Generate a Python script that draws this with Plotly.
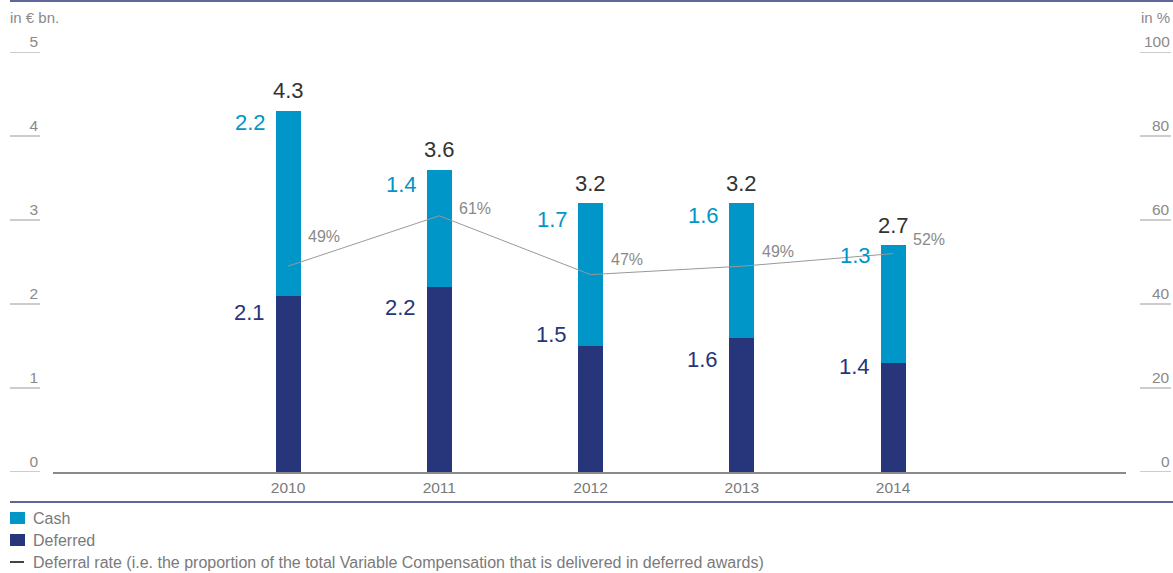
import plotly.graph_objects as go

# ---------------- data ----------------
years = ["2010", "2011", "2012", "2013", "2014"]
deferred = [2.1, 2.2, 1.5, 1.6, 1.3]
cash = [2.2, 1.4, 1.7, 1.6, 1.4]
deferred_labels = ["2.1", "2.2", "1.5", "1.6", "1.4"]
cash_labels = ["2.2", "1.4", "1.7", "1.6", "1.3"]
total_labels = ["4.3", "3.6", "3.2", "3.2", "2.7"]
deferral_rate = [49, 61, 47, 49, 52]
left_ticks = [0, 1, 2, 3, 4, 5]
right_ticks = [0, 20, 40, 60, 80, 100]

# ---------------- styling ----------------
W, H = 1173, 573
L, R, T, B = 53, 1126, 52, 472  # plot area in pixels
CASH_C = "#0096c8"
DEF_C = "#27357a"
GRAY = "#8a8a8a"
FONT = "Liberation Sans, Arial, sans-serif"
BAR_W = 0.165

# label pixel offsets (style only)
cash_dy = [-12, -15, -16, -12, -10]
def_dy = [-17, -20, 12, -22, -4]
pct_dy = [-30, -7, -15, -15, -14]


def px(x):
    return (x - L) / (R - L)


def py(y):
    return (B - y) / (B - T)


totals = [d + c for d, c in zip(deferred, cash)]
idx = list(range(len(years)))

fig = go.Figure()
fig.add_trace(go.Bar(x=years, y=deferred, name="Deferred", marker_color=DEF_C,
                     marker_line_width=0, width=BAR_W, hoverinfo="skip"))
fig.add_trace(go.Bar(x=years, y=cash, name="Cash", marker_color=CASH_C,
                     marker_line_width=0, width=BAR_W, hoverinfo="skip"))
fig.add_trace(go.Scatter(x=years, y=deferral_rate, yaxis="y2", mode="lines",
                         name="Deferral rate", line=dict(color="#999999", width=1),
                         hoverinfo="skip"))

ann = []
for i in idx:
    # totals
    ann.append(dict(x=i, y=totals[i], xref="x", yref="y", text=total_labels[i],
                    showarrow=False, yanchor="middle", yshift=20,
                    font=dict(family=FONT, size=22, color="#333333")))
    # cash
    ann.append(dict(x=i - BAR_W / 2, y=totals[i], xref="x", yref="y", text=cash_labels[i],
                    showarrow=False, xanchor="right", yanchor="middle",
                    xshift=-8, yshift=cash_dy[i],
                    font=dict(family=FONT, size=22, color=CASH_C)))
    # deferred
    ann.append(dict(x=i - BAR_W / 2, y=deferred[i], xref="x", yref="y", text=deferred_labels[i],
                    showarrow=False, xanchor="right", yanchor="middle",
                    xshift=-9, yshift=def_dy[i],
                    font=dict(family=FONT, size=22, color=DEF_C)))
    # rate
    ann.append(dict(x=i, y=deferral_rate[i], xref="x", yref="y2",
                    text=f"{deferral_rate[i]}%", showarrow=False, xanchor="left",
                    yanchor="middle", xshift=18, yshift=-pct_dy[i],
                    font=dict(family=FONT, size=16, color=GRAY)))

# right axis tick labels
for v in right_ticks:
    ann.append(dict(x=px(1172), y=v, xref="paper", yref="y2", text=str(v), showarrow=False,
                    xanchor="right", yanchor="middle", yshift=11,
                    font=dict(family=FONT, size=15.5, color=GRAY)))

# axis titles
ann.append(dict(x=px(8), y=py(17), xref="paper", yref="paper", text="in € bn.",
                showarrow=False, xanchor="left", yanchor="middle",
                font=dict(family=FONT, size=15, color=GRAY)))
ann.append(dict(x=px(1172), y=py(17), xref="paper", yref="paper", text="in %",
                showarrow=False, xanchor="right", yanchor="middle",
                font=dict(family=FONT, size=15, color=GRAY)))

# legend texts
leg = [("Cash", 518), ("Deferred", 540),
       ("Deferral rate (i.e. the proportion of the total Variable Compensation that is delivered in deferred awards)", 562)]
for txt, yy in leg:
    ann.append(dict(x=px(31), y=py(yy), xref="paper", yref="paper", text=txt,
                    showarrow=False, xanchor="left", yanchor="middle",
                    font=dict(family=FONT, size=16, color="#7a7a7a")))

shapes = []
# top and bottom navy rules
for yy in (1, 502):
    shapes.append(dict(type="line", xref="paper", yref="paper", x0=px(10), x1=px(1173),
                       y0=py(yy), y1=py(yy), line=dict(color=DEF_C, width=1.5)))
# tick underlines
for v in left_ticks:
    shapes.append(dict(type="line", xref="paper", yref="y", x0=px(10), x1=px(40),
                       y0=v, y1=v, line=dict(color="#9a9a9a", width=1)))
for v in right_ticks:
    shapes.append(dict(type="line", xref="paper", yref="y2", x0=px(1140), x1=px(1171),
                       y0=v, y1=v, line=dict(color="#9a9a9a", width=1)))
# legend symbols
shapes.append(dict(type="rect", xref="paper", yref="paper", x0=px(10), x1=px(25),
                   y0=py(512), y1=py(524), fillcolor=CASH_C, line=dict(width=0)))
shapes.append(dict(type="rect", xref="paper", yref="paper", x0=px(10), x1=px(25),
                   y0=py(534), y1=py(546), fillcolor=DEF_C, line=dict(width=0)))
shapes.append(dict(type="line", xref="paper", yref="paper", x0=px(10), x1=px(24),
                   y0=py(562), y1=py(562), line=dict(color="#444444", width=2)))

fig.update_layout(
    width=W, height=H, autosize=False,
    margin=dict(l=L, r=W - R, t=T, b=H - B, pad=0),
    paper_bgcolor="white", plot_bgcolor="white",
    barmode="stack", showlegend=False,
    font=dict(family=FONT, size=15, color=GRAY),
    xaxis=dict(type="category", range=[-1.554, 5.54], showgrid=False, zeroline=False,
               showline=True, linecolor="#8a8a8a", linewidth=1.5, ticks="",
               tickfont=dict(family=FONT, size=15.5, color="#7a7a7a"),
               ticklabelstandoff=1, fixedrange=True),
    yaxis=dict(range=[0, 5], tickvals=left_ticks, showgrid=False, zeroline=False,
               showline=False, ticks="", ticklabelshift=-10, ticklabelstandoff=14,
               tickfont=dict(family=FONT, size=15.5, color=GRAY), fixedrange=True),
    yaxis2=dict(range=[0, 100], overlaying="y", side="right", showgrid=False,
                zeroline=False, showline=False, showticklabels=False, fixedrange=True),
    annotations=ann, shapes=shapes,
)

fig.write_html("out.html", config={"displayModeBar": False},
               post_script="document.body.style.margin='0';document.body.style.overflow='hidden';")
